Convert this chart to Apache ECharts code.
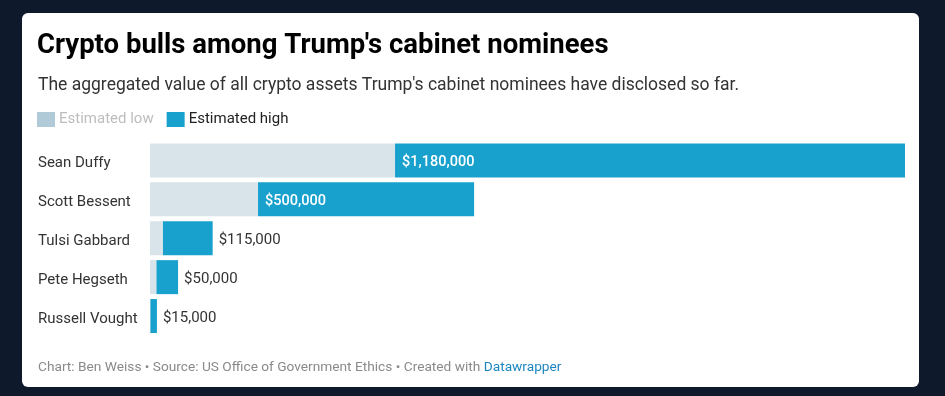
<!DOCTYPE html>
<html>
<head>
<meta charset="utf-8">
<script src="https://cdn.jsdelivr.net/npm/echarts@6/dist/echarts.min.js"></script>
<style>
  html, body { margin:0; padding:0; width:945px; height:396px; background:#0e192b; overflow:hidden; }
  #card { position:absolute; left:22px; top:13px; width:897px; height:374px; background:#fff; border-radius:6px; }
  #chart { position:absolute; left:0; top:0; width:945px; height:396px; }
</style>
</head>
<body>
<div id="card"></div>
<div id="chart"></div>
<script>
const names = ['Sean Duffy', 'Scott Bessent', 'Tulsi Gabbard', 'Pete Hegseth', 'Russell Vought'];
const estimatedLow = [567000, 250000, 30000, 15000, 1000];
const estimatedHigh = [1180000, 500000, 115000, 50000, 15000];

const font = 'Roboto, "Noto Sans", sans-serif';
const fmt = v => '$' + v.toLocaleString('en-US');
const maxHigh = Math.max(...estimatedHigh);

const highData = estimatedHigh.map(v => {
  const inside = v > maxHigh * 0.3;
  return {
    value: v,
    label: inside
      ? { position: 'insideLeft', distance: 7, color: '#fff', fontWeight: 500, fontSize: 14.5 }
      : { position: 'right', distance: 6, color: '#333', fontWeight: 400, fontSize: 15 }
  };
});

const chart = echarts.init(document.getElementById('chart'), null, { renderer: 'canvas' });
chart.setOption({
  backgroundColor: 'transparent',
  animation: false,
  textStyle: { fontFamily: font },
  title: [
    { text: "Crypto bulls among Trump's cabinet nominees", left: 37, top: 30, padding: 0,
      textStyle: { fontFamily: font, fontSize: 27.5, fontWeight: 'bold', color: '#000', lineHeight: 32 } },
    { text: "The aggregated value of all crypto assets Trump's cabinet nominees have disclosed so far.", left: 38, top: 75, padding: 0,
      textStyle: { fontFamily: font, fontSize: 17.5, fontWeight: 'normal', color: '#333', lineHeight: 22 } },
    { text: '{a|Chart: Ben Weiss • Source: US Office of Government Ethics • Created with }{b|Datawrapper}', left: 38, top: 360, padding: 0,
      textStyle: { fontWeight: 'normal', rich: {
        a: { fontFamily: font, fontSize: 13.7, fontWeight: 'normal', color: '#8a8a8a', lineHeight: 16 },
        b: { fontFamily: font, fontSize: 13.7, fontWeight: 'normal', color: '#1d86c1', lineHeight: 16 }
      } } }
  ],
  legend: {
    left: 37, top: 112, padding: 0, itemWidth: 18, itemHeight: 15, itemGap: 13,
    icon: 'rect', selectedMode: false,
    textStyle: { fontFamily: font, fontSize: 15, color: '#222', padding: [2, 0, 0, -1] },
    data: [
      { name: 'Estimated low', itemStyle: { color: '#b1cad7' }, textStyle: { color: '#bdbdbd' } },
      { name: 'Estimated high', itemStyle: { color: '#18a1cd' } }
    ]
  },
  grid: { left: 150, right: 40, top: 141, bottom: 60.5, containLabel: false },
  xAxis: {
    type: 'value', min: 0, max: 'dataMax', show: false
  },
  yAxis: {
    type: 'category', data: names, inverse: true,
    axisLine: { show: false }, axisTick: { show: false },
    axisLabel: { align: 'left', verticalAlign: 'top', lineHeight: 6, margin: 112, fontFamily: font, fontSize: 15, color: '#333' }
  },
  series: [
    {
      name: 'Estimated low', type: 'bar', stack: 'total', barWidth: 34,
      itemStyle: { color: '#d8e3ea' },
      data: estimatedLow
    },
    {
      name: 'Estimated high', type: 'bar', stack: 'total', barWidth: 34,
      itemStyle: { color: '#18a1cd' },
      label: { show: true, fontFamily: font, fontSize: 14, offset: [0, 2], formatter: p => fmt(p.value) },
      data: highData
    }
  ]
});
</script>
</body>
</html>
